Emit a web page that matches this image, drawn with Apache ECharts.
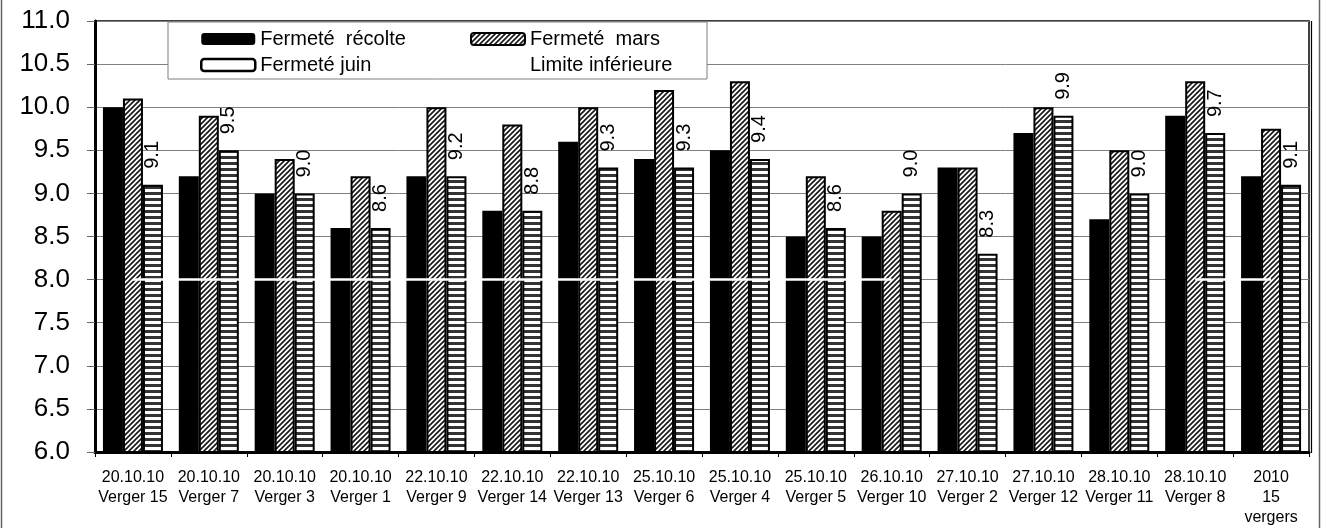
<!DOCTYPE html>
<html>
<head>
<meta charset="utf-8">
<script src="https://cdn.jsdelivr.net/npm/echarts@6/dist/echarts.min.js"></script>
<style>
  html, body { margin: 0; padding: 0; background: #fff; }
  #chart { width: 1321px; height: 528px; }
</style>
</head>
<body>
<div id="chart"></div>
<script>
// Categories: harvest date + orchard
const categories = [
  '20.10.10\nVerger 15', '20.10.10\nVerger 7', '20.10.10\nVerger 3', '20.10.10\nVerger 1',
  '22.10.10\nVerger 9', '22.10.10\nVerger 14', '22.10.10\nVerger 13', '25.10.10\nVerger 6',
  '25.10.10\nVerger 4', '25.10.10\nVerger 5', '26.10.10\nVerger 10', '27.10.10\nVerger 2',
  '27.10.10\nVerger 12', '28.10.10\nVerger 11', '28.10.10\nVerger 8', '2010\n15\nvergers'
];

// Firmness values (kg/cm²)
const fermeteRecolte = [10.0, 9.2, 9.0, 8.6, 9.2, 8.8, 9.6, 9.4, 9.5, 8.5, 8.5, 9.3, 9.7, 8.7, 9.9, 9.2];
const fermeteMars    = [10.1, 9.9, 9.4, 9.2, 10.0, 9.8, 10.0, 10.2, 10.3, 9.2, 8.8, 9.3, 10.0, 9.5, 10.3, 9.75];
const fermeteJuin    = [9.1, 9.5, 9.0, 8.6, 9.2, 8.8, 9.3, 9.3, 9.4, 8.6, 9.0, 8.3, 9.9, 9.0, 9.7, 9.1];
const limiteInferieure = [8, 8, 8, 8, 8, 8, 8, 8, 8, 8, 8, null, null, null, 8, 8];

// Value axis
const yMin = 6;
const yMax = 11;
const yStep = 0.5;

const seriesNames = ['Fermeté  récolte', 'Fermeté  mars', 'Fermeté juin', 'Limite inférieure'];

const FONT = "'Liberation Sans', Arial, sans-serif";

// Diagonal hatch fill
function hatchPattern() {
  const s = 5;
  const c = document.createElement('canvas');
  c.width = s; c.height = s;
  const g = c.getContext('2d');
  g.fillStyle = '#fff';
  g.fillRect(0, 0, s, s);
  g.strokeStyle = '#1a1a1a';
  g.lineWidth = 1.7;
  g.beginPath();
  g.moveTo(0, s); g.lineTo(s, 0);
  g.moveTo(-1, 1); g.lineTo(1, -1);
  g.moveTo(s - 1, s + 1); g.lineTo(s + 1, s - 1);
  g.stroke();
  return c;
}

// Horizontal stripe fill
function stripePattern() {
  const c = document.createElement('canvas');
  c.width = 6; c.height = 6;
  const g = c.getContext('2d');
  g.fillStyle = '#fff';
  g.fillRect(0, 0, 6, 6);
  g.fillStyle = '#333';
  g.fillRect(0, 0, 6, 3);
  return c;
}

const chart = echarts.init(document.getElementById('chart'), null, { renderer: 'canvas' });

const option = {
  backgroundColor: '#fff',
  animation: false,
  textStyle: { fontFamily: FONT },
  grid: {
    left: 95, right: 12, top: 21, bottom: 75,
    show: true, borderColor: '#000', borderWidth: 1.5,
    containLabel: false
  },
  legend: [
    {
      orient: 'vertical', left: 200, top: 28, padding: 0,
      itemWidth: 54, itemHeight: 12, itemGap: 4,
      selectedMode: false,
      textStyle: { fontFamily: FONT, fontSize: 20, color: '#000', lineHeight: 22 },
      data: [
        { name: seriesNames[0] },
        { name: seriesNames[2], itemStyle: { color: '#fff', borderColor: '#000', borderWidth: 2.5 } }
      ]
    },
    {
      orient: 'vertical', left: 470, top: 28, padding: 0,
      itemWidth: 54, itemHeight: 12, itemGap: 4,
      selectedMode: false,
      textStyle: { fontFamily: FONT, fontSize: 20, color: '#000', lineHeight: 22 },
      data: [
        { name: seriesNames[1] },
        { name: seriesNames[3], icon: 'rect', itemStyle: { color: '#fff', borderWidth: 0 } }
      ]
    }
  ],
  xAxis: {
    type: 'category',
    data: categories,
    axisLine: { show: true, lineStyle: { color: '#000', width: 3 } },
    axisTick: { show: true, interval: 0, length: 5, lineStyle: { color: '#000', width: 1 } },
    axisLabel: {
      interval: 0, fontFamily: FONT, fontSize: 16, lineHeight: 20, margin: 16, color: '#000'
    },
    splitLine: { show: false }
  },
  yAxis: {
    type: 'value',
    min: yMin, max: yMax, interval: yStep,
    axisLine: { show: true, lineStyle: { color: '#000', width: 3 } },
    axisTick: { show: true, length: 8, lineStyle: { color: '#666', width: 1 } },
    axisLabel: {
      fontFamily: FONT, fontSize: 26, color: '#000', margin: 25,
      formatter: v => v.toFixed(1)
    },
    splitLine: { show: true, lineStyle: { color: '#808080', width: 1 } }
  },
  series: [
    {
      name: seriesNames[0], type: 'bar', data: fermeteRecolte,
      barWidth: 20, barGap: '0%',
      itemStyle: { color: '#000' }
    },
    {
      name: seriesNames[1], type: 'bar', data: fermeteMars,
      barWidth: 20, barGap: '0%',
      itemStyle: { color: { image: hatchPattern(), repeat: 'repeat' }, borderColor: '#000', borderWidth: 2 }
    },
    {
      name: seriesNames[2], type: 'bar', data: fermeteJuin,
      barWidth: 20, barGap: '0%',
      itemStyle: { color: { image: stripePattern(), repeat: 'repeat' }, borderColor: '#000', borderWidth: 2 },
      label: {
        show: true, position: 'top', distance: 16, rotate: 90,
        align: 'left', verticalAlign: 'middle',
        fontFamily: FONT, fontSize: 20, color: '#000',
        formatter: p => p.value.toFixed(1)
      },
      z: 3
    },
    {
      name: seriesNames[3], type: 'line', data: limiteInferieure,
      symbol: 'none', showSymbol: false, connectNulls: false, silent: true,
      lineStyle: { color: '#fff', width: 2.5 },
      itemStyle: { color: '#fff' },
      z: 6
    }
  ],
  graphic: [
    {
      type: 'rect', z: 3,
      shape: { x: 168, y: 22, width: 539, height: 57 },
      style: { fill: '#fff', stroke: '#7f7f7f', lineWidth: 1 }
    },
    {
      type: 'line', z: 10,
      shape: { x1: 1311.5, y1: 21, x2: 1311.5, y2: 453 },
      style: { stroke: '#000', lineWidth: 1.2 }
    },
    {
      type: 'line', z: 10,
      shape: { x1: 1.5, y1: 0, x2: 1.5, y2: 528 },
      style: { stroke: '#666', lineWidth: 1.5 }
    },
    {
      type: 'line', z: 10,
      shape: { x1: 1319.5, y1: 0, x2: 1319.5, y2: 528 },
      style: { stroke: '#666', lineWidth: 1.5 }
    }
  ]
};

chart.setOption(option);
</script>
</body>
</html>
